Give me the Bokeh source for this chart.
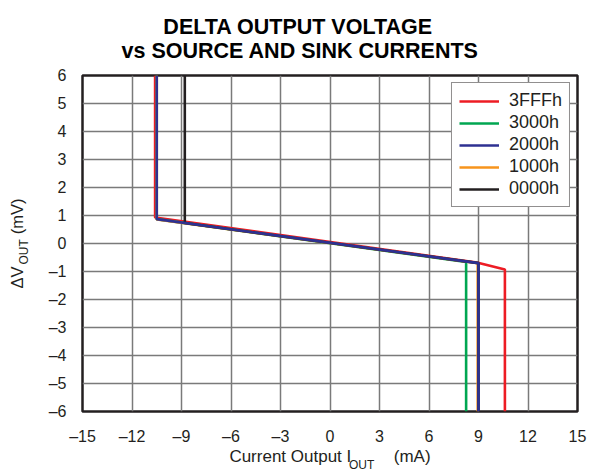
from bokeh.plotting import figure
from bokeh.models import (Range1d, FixedTicker, Legend, LegendItem, LinearAxis,
                          Title)
from bokeh.embed import file_html
from bokeh.resources import INLINE

# ---- data ----
x_ticks = [-15, -12, -9, -6, -3, 0, 3, 6, 9, 12, 15]
y_ticks = [-6, -5, -4, -3, -2, -1, 0, 1, 2, 3, 4, 5, 6]

codes = ["3FFFh", "3000h", "2000h", "1000h", "0000h"]
colors = ["#ed1c24", "#00a651", "#2e3192", "#f7941d", "#231f20"]

x_3fff = [-10.6, -10.6, 8.9, 10.6, 10.6]
y_3fff = [6.0, 0.93, -0.68, -0.93, -6.0]

x_3000 = [-10.5, -10.5, 8.25, 8.25]
y_3000 = [6.0, 0.87, -0.66, -6.0]

x_2000 = [-10.5, -10.5, 9.0, 9.0]
y_2000 = [6.0, 0.87, -0.70, -6.0]

x_1000 = [-10.5, -10.5, 8.95, 8.95]
y_1000 = [6.0, 0.86, -0.70, -6.0]

x_0000 = [-8.8, -8.8, 9.0, 9.0]
y_0000 = [6.0, 0.73, -0.70, -6.0]

title_lines = ["DELTA OUTPUT VOLTAGE", "vs SOURCE AND SINK CURRENTS"]

FONT = "Liberation Sans"
TXT = "#231f20"
W, H = 589, 474
NB = "\u00a0"

p = figure(width=W, height=H, output_backend="svg", toolbar_location=None,
           x_range=Range1d(-15, 15), y_range=Range1d(-6, 6),
           min_border_left=82, min_border_right=12, min_border_top=75,
           min_border_bottom=63)
p.background_fill_color = "white"
p.border_fill_color = "white"
p.outline_line_color = "#231f20"
p.outline_line_width = 2.5

for ax, ticks in ((p.xaxis, x_ticks), (p.yaxis, y_ticks)):
    ax.ticker = FixedTicker(ticks=ticks)
    ax.major_label_overrides = {t: (str(t).replace("-", "\u2013")) for t in ticks}
    ax.major_tick_out = 0
    ax.major_tick_in = 0
    ax.minor_tick_out = 0
    ax.minor_tick_in = 0
    ax.axis_line_color = None
    ax.major_label_text_font = FONT
    ax.major_label_text_font_size = "16px"
    ax.major_label_text_color = TXT
    ax.major_label_standoff = 16
    ax.axis_label_text_font = FONT
    ax.axis_label_text_color = TXT
    ax.axis_label_text_font_style = "normal"

# x: main label on the real axis, subscript on an extra bare axis below it
p.xaxis.axis_label = "Current Output I" + NB * 9 + "(mA)"
p.xaxis.axis_label_text_font_size = "17px"
p.xaxis.major_label_text_line_height = 1.0
p.xaxis.axis_label_text_line_height = 1.0
p.xaxis.axis_label_standoff = -1

# y: subscript on the real axis, main label on an extra bare axis outside it
p.yaxis.axis_label = "OUT" + NB * 5
p.yaxis.axis_label_text_font_size = "12px"
p.yaxis.axis_label_standoff = 15


def bare_axis(label, size, standoff, bold=False):
    a = LinearAxis(ticker=FixedTicker(ticks=[]), axis_label=label)
    a.major_tick_out = 0
    a.major_tick_in = 0
    a.minor_tick_out = 0
    a.minor_tick_in = 0
    a.major_label_standoff = 0
    a.axis_line_color = None
    a.axis_label_text_font = FONT
    a.axis_label_text_font_size = size
    a.axis_label_text_font_style = "bold" if bold else "normal"
    a.axis_label_text_color = TXT
    a.axis_label_standoff = standoff
    return a


p.add_layout(bare_axis(NB * 19 + "OUT", "12px", -11), "below")
p.add_layout(bare_axis("\u0394V" + NB * 7 + "(mV)", "16.5px", -12), "left")

p.xgrid.ticker = FixedTicker(ticks=x_ticks)
p.ygrid.ticker = FixedTicker(ticks=y_ticks)
for g in (p.xgrid, p.ygrid):
    g.grid_line_color = "#7a7a7a"
    g.grid_line_width = 1.5
    g.grid_line_alpha = 1.0

series = {
    "3FFFh": (x_3fff, y_3fff, colors[0]),
    "3000h": (x_3000, y_3000, colors[1]),
    "2000h": (x_2000, y_2000, colors[2]),
    "1000h": (x_1000, y_1000, colors[3]),
    "0000h": (x_0000, y_0000, colors[4]),
}
draw_order = ["3FFFh", "3000h", "1000h", "0000h", "2000h"]
rends = {}
for name in draw_order:
    xs, ys, c = series[name]
    rends[name] = p.line(xs, ys, line_color=c, line_width=2.6)

legend = Legend(items=[LegendItem(label=n, renderers=[rends[n]]) for n in codes],
                location="top_right")
legend.margin = 7
legend.padding = 7
legend.spacing = 1
legend.glyph_width = 40
legend.label_standoff = 10
legend.label_text_font = FONT
legend.label_text_font_size = "18px"
legend.label_text_color = TXT
legend.border_line_color = "#231f20"
legend.border_line_width = 1.2
legend.background_fill_color = "white"
legend.background_fill_alpha = 1.0
p.add_layout(legend, "center")

# two-line bold title in one Title; NBSP padding centres each line near x=300
title_text = (NB * 7 + title_lines[0]) + "\n" + (title_lines[1] + NB * 10)
t = Title(text=title_text, align="center",
          text_font=FONT, text_font_size="21.5px", text_font_style="bold",
          text_color="#000000", text_line_height=1.0)
if "standoff" in Title.properties():
    t.standoff = 25
p.add_layout(t, "above")

open("out.html", "w").write(file_html(p, INLINE))
